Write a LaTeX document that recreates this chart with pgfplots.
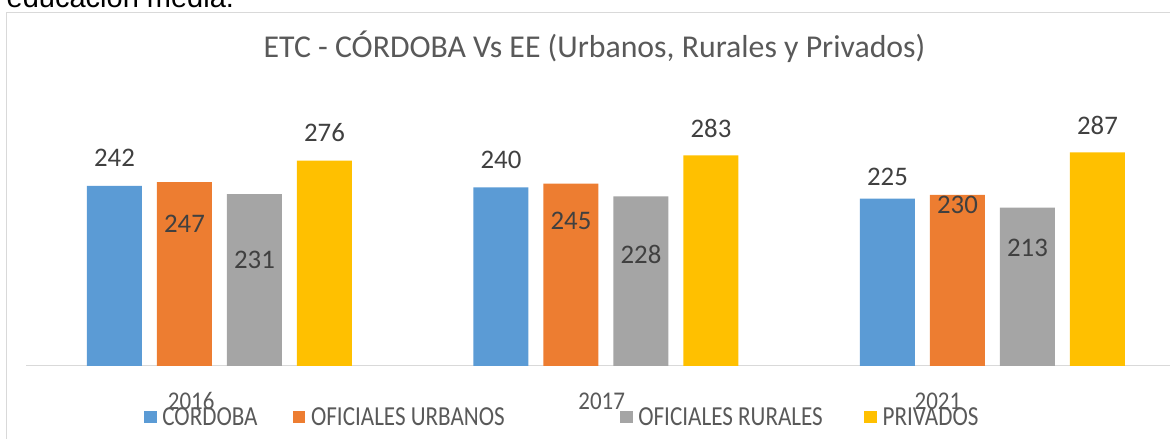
\documentclass[border=0pt]{standalone}
\usepackage{fontspec}
\setmainfont{Carlito}
\newfontfamily\arialfont{Liberation Sans}
\usepackage{pgfplots}
\pgfplotsset{compat=1.18}
\definecolor{cblue}{HTML}{5B9BD5}
\definecolor{corange}{HTML}{ED7D31}
\definecolor{cgray}{HTML}{A5A5A5}
\definecolor{cyellow}{HTML}{FFC000}
\definecolor{framegray}{HTML}{D9D9D9}
\definecolor{labeltext}{HTML}{404040}
\definecolor{titletext}{HTML}{595959}

\pgfplotstableread{
x y off
0 242 27.7
1 240 27.4
2 225 21.7
}\tcordoba
\pgfplotstableread{
x y off
0 247 -41.7
1 245 -37.5
2 230 -10.3
}\turbanos
\pgfplotstableread{
x y off
0 231 -65.3
1 228 -57.8
2 213 -40.3
}\trurales
\pgfplotstableread{
x y off
0 276 27.8
1 283 27.0
2 287 27.0
}\tprivados

\newcommand{\legtxt}[1]{\scalebox{0.84}[1]{#1}}
\newcommand{\yrtxt}[1]{\scalebox{0.9}[1]{#1}}

\begin{document}
\begin{tikzpicture}[x=1pt,y=1pt]
\useasboundingbox (0,0) rectangle (1170,439);
\clip (0,0) rectangle (1170,439);
\node[anchor=base west, inner sep=0pt, font=\arialfont\fontsize{29}{34}\selectfont] at (6.5,431.7) {educación media.};
\draw[draw=framegray, line width=1pt] (6.7,-20) rectangle (1200,426.7);
\begin{axis}[
  at={(26.25pt,73pt)}, anchor=south west,
  scale only axis, width=1159.5pt, height=223.2pt,
  xmin=-0.5, xmax=2.5, ymin=0, ymax=300,
  /pgf/number format/assume math mode=true,
  axis x line*=bottom, hide y axis,
  x axis line style={draw=framegray, line width=1pt},
  xtick={-0.0733,0.9889,1.8588},
  xticklabels={\yrtxt{2016},\yrtxt{2017},\yrtxt{2021}},
  major tick length=0pt,
  xticklabel style={anchor=base, yshift=-43.3pt, font=\fontsize{25.5}{30}\selectfont, text=titletext},
  ybar=15pt, bar width=55pt,
  title={ETC - CÓRDOBA Vs EE (Urbanos, Rurales y Privados)},
  title style={at={(0.4901,1.356)}, anchor=base, font=\fontsize{31.8}{36}\selectfont, text=titletext, inner sep=0pt},
  point meta=y,
  nodes near coords={\pgfmathprintnumber{\pgfplotspointmeta}},
  visualization depends on={\thisrow{off}\as\labeloff},
  every node near coord/.append style={anchor=center, yshift=\labeloff pt, font=\fontsize{26.8}{30}\selectfont, text=labeltext},
  legend columns=4,
  legend style={at={(0.1016,-0.2285)}, anchor=west, draw=none, fill=none, inner sep=0pt, outer sep=0pt,
    column sep=0pt, nodes={inner sep=0pt}, font=\fontsize{27.5}{33}\selectfont, text=titletext},
  legend image code/.code={\fill[#1,draw=none] (0pt,-6.4pt) rectangle (12.7pt,6.4pt); \path (18.3pt,0pt);},
]
\addplot[fill=cblue, draw=none] table[x=x,y=y] {\tcordoba};
\addlegendentry{\makebox[130.4pt][l]{\legtxt{CORDOBA}}}
\addplot[fill=corange, draw=none] table[x=x,y=y] {\turbanos};
\addlegendentry{\makebox[309pt][l]{\legtxt{OFICIALES URBANOS}}}
\addplot[fill=cgray, draw=none] table[x=x,y=y] {\trurales};
\addlegendentry{\makebox[226pt][l]{\legtxt{OFICIALES RURALES}}}
\addplot[fill=cyellow, draw=none] table[x=x,y=y] {\tprivados};
\addlegendentry{\legtxt{PRIVADOS}}
\end{axis}
\end{tikzpicture}
\end{document}
